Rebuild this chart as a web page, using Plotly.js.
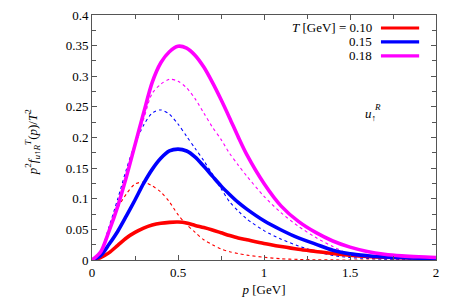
<!DOCTYPE html>
<html><head><meta charset="utf-8">
<script src="https://cdn.plot.ly/plotly-3.0.1.min.js"></script>
<style>html,body{margin:0;padding:0;background:#fff}#chart{width:463px;height:303px}</style>
</head><body><div id="chart"></div>
<script>
const p = [0,0.05,0.1,0.15,0.2,0.25,0.3,0.35,0.4,0.45,0.5,0.55,0.6,0.65,0.7,0.75,0.8,0.85,0.9,1.0,1.1,1.2,1.3,1.4,1.5,1.6,1.7,1.8,1.9,2.0];
const solidT010 = [0,0.004,0.012,0.024,0.036,0.045,0.052,0.057,0.060,0.0615,0.062,0.0605,0.0565,0.053,0.049,0.0445,0.040,0.036,0.033,0.027,0.022,0.0175,0.014,0.0105,0.0078,0.0058,0.0045,0.0037,0.0031,0.0028];
const solidT015 = [0,0.007,0.026,0.047,0.072,0.098,0.125,0.148,0.166,0.178,0.181,0.178,0.168,0.153,0.137,0.121,0.107,0.094,0.083,0.064,0.049,0.036,0.026,0.016,0.010,0.007,0.005,0.004,0.003,0.0025];
const solidT018 = [0,0.013,0.048,0.088,0.136,0.188,0.240,0.290,0.322,0.340,0.349,0.346,0.334,0.315,0.290,0.262,0.232,0.201,0.172,0.125,0.088,0.063,0.045,0.031,0.021,0.014,0.0095,0.0068,0.0052,0.0042];
const dashT010 = [0,0.013,0.050,0.085,0.108,0.124,0.127,0.121,0.111,0.095,0.074,0.058,0.045,0.033,0.025,0.018,0.0135,0.0105,0.008,0.0045,0.002,0.001,0.0004,0.0002,0,0,0,0,0,0];
const dashT015 = [0,0.014,0.055,0.100,0.148,0.190,0.220,0.240,0.245,0.238,0.222,0.202,0.182,0.162,0.140,0.117,0.095,0.080,0.067,0.048,0.034,0.023,0.014,0.0075,0.004,0.0025,0.0015,0.001,0.0007,0.0005];
const dashT018 = [0,0.013,0.048,0.088,0.135,0.185,0.230,0.272,0.287,0.295,0.292,0.281,0.263,0.240,0.217,0.197,0.174,0.155,0.137,0.104,0.077,0.055,0.037,0.022,0.010,0.0065,0.0035,0.002,0.0012,0.0008];
const temps = ['0.10','0.15','0.18'];
const colors = ['#ff0000','#0000ff','#ff00ff'];
const solids = [solidT010, solidT015, solidT018];
const dashes = [dashT010, dashT015, dashT018];

const font = '"Times New Roman", Times, "Liberation Serif", serif';
const traces = [];
for (let i=0;i<3;i++){
  traces.push({x:p,y:dashes[i],mode:'lines',line:{color:colors[i],width:1.1,dash:'3px,3px',shape:'spline',smoothing:0.8},showlegend:false,hoverinfo:'skip'});
}
for (let i=0;i<3;i++){
  traces.push({x:p,y:solids[i],mode:'lines',name:temps[i],line:{color:colors[i],width:3.6,shape:'spline',smoothing:0.8},showlegend:false,hoverinfo:'skip'});
}
const ann = [];
const shapes = [];
const legY = [0.947, 0.890, 0.833];
for (let i=0;i<3;i++){
  ann.push({xref:'paper',yref:'paper',x:0.819,y:legY[i],xanchor:'right',yanchor:'middle',showarrow:false,
    text:(i===0?'<i>T</i> [GeV] = ':'')+temps[i],font:{family:font,size:13,color:'#000'}});
  shapes.push({type:'line',xref:'paper',yref:'paper',x0:0.84,x1:0.951,y0:legY[i],y1:legY[i],line:{color:colors[i],width:3.2}});
}
ann.push({xref:'paper',yref:'paper',x:0.81,y:0.595,xanchor:'center',yanchor:'middle',showarrow:false,
  text:'<i>u</i><sub>↑</sub>',font:{family:font,size:13,color:'#000'}});
ann.push({xref:'paper',yref:'paper',x:0.83,y:0.625,xanchor:'center',yanchor:'middle',showarrow:false,
  text:'<i>R</i>',font:{family:font,size:9,color:'#000'}});
// y-axis title as rotated annotation
ann.push({xref:'paper',yref:'paper',x:-0.172,y:0.48,xanchor:'center',yanchor:'middle',textangle:-90,showarrow:false,
  text:'<i>p</i><sup>2</sup><i>f</i><sub><i>u</i>↑<i>R</i></sub><sup><i>T</i></sup>(<i>p</i>)/<i>T</i><sup>2</sup>',font:{family:font,size:13,color:'#000'}});

const layout = {
  width:463,height:303,
  margin:{l:92,r:27,t:15,b:43},
  paper_bgcolor:'#fff',plot_bgcolor:'#fff',
  font:{family:font,size:13,color:'#000'},
  showlegend:false,
  xaxis:{range:[0,2],tickvals:[0,0.5,1,1.5,2],ticktext:['0','0.5','1','1.5','2'],ticks:'inside',ticklen:5,tickcolor:'#555',
    tickfont:{family:font,size:13},
    minor:{dtick:0.25,ticks:'inside',ticklen:4,tickcolor:'#555',showgrid:false},
    showline:true,linecolor:'#555',linewidth:1,mirror:'ticks',showgrid:false,zeroline:false,
    title:{text:'<i>p</i> [GeV]',font:{family:font,size:13},standoff:6}},
  yaxis:{range:[0,0.4],tickvals:[0,0.05,0.1,0.15,0.2,0.25,0.3,0.35,0.4],ticktext:['0','0.05','0.1','0.15','0.2','0.25','0.3','0.35','0.4'],
    ticks:'inside',ticklen:5,tickcolor:'#555',tickfont:{family:font,size:13},
    minor:{dtick:0.025,ticks:'inside',ticklen:4,tickcolor:'#555',showgrid:false},
    showline:true,linecolor:'#555',linewidth:1,mirror:'ticks',showgrid:false,zeroline:false},
  annotations:ann,shapes:shapes
};
Plotly.newPlot('chart',traces,layout,{staticPlot:true});
</script></body></html>
